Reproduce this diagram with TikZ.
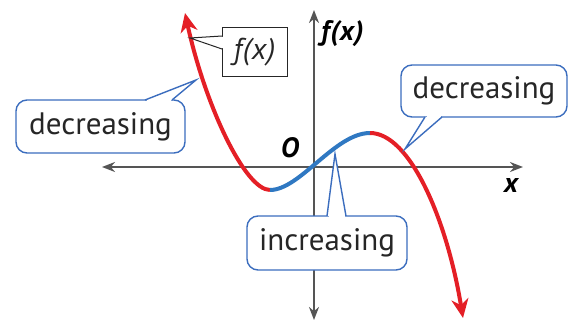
\documentclass[tikz,border=0pt]{standalone}
\usepackage{fontspec}
\setmainfont{PT Sans}
\usetikzlibrary{arrows.meta}
\definecolor{curvered}{HTML}{E41F26}
\definecolor{curveblue}{HTML}{2F78C2}
\definecolor{callblue}{HTML}{3B6DBE}
\definecolor{axisgray}{HTML}{555555}
\definecolor{txtgray}{HTML}{262626}
\begin{document}
\begin{tikzpicture}[x=1pt,y=-1pt,
  axisline/.style={draw=axisgray, line width=2pt, {Stealth[length=13pt,width=10pt]}-{Stealth[length=13pt,width=10pt]}},
  redseg/.style={draw=curvered, line width=4pt},
  blueseg/.style={draw=curveblue, line width=4pt},
  redtip/.style={-{Stealth[length=19pt,width=17pt,inset=6pt]}},
  callout/.style={draw=callblue, line width=1.4pt, fill=white, rounded corners=11pt, text=txtgray,
    font=\fontsize{31}{34}\selectfont, inner sep=0pt, anchor=center},
  tailline/.style={draw=callblue, line width=1.4pt, line join=miter},
  axlabel/.style={font=\fontsize{28}{30}\selectfont\bfseries\itshape, text=black, inner sep=0pt},
  fbox/.style={draw=black!85, line width=1pt, fill=white, inner sep=0pt, text=txtgray,
    font=\fontsize{30}{32}\selectfont\itshape, minimum width=65pt, minimum height=49pt},
  fline/.style={draw=black!85, line width=1pt, line join=miter}
]
\useasboundingbox (0,0) rectangle (576,321);

% axes
\coordinate (xl) at (102,167);
\coordinate (xr) at (523,167);
\coordinate (yb) at (314,320);
\coordinate (yt) at (314,10);
\draw[axisline] (xl) -- (xr);
\draw[axisline] (yb) -- (yt);
\node[axlabel, anchor=west] (fxlab) at (321,34) {f\kern1pt(\kern1pt x\kern1pt)};
\node[axlabel] (olab) at (290,148) {O};
\node[axlabel] (xlab) at (511,185) {x};

% curve
\coordinate (tipL) at (185,13);
\coordinate (cmin) at (270,190);
\coordinate (cmax) at (370,133);
\coordinate (tipR) at (463,318);
\draw[redseg, redtip] (cmin) .. controls (245,190) and (205,105) .. (tipL);
\draw[blueseg] (cmin) .. controls (300,190) and (335,133) .. (cmax);
\draw[redseg, redtip] (cmax) .. controls (410,133) and (447,220) .. (tipR);

% pointer targets on the curve
\coordinate (pL) at (196,80);
\coordinate (pR) at (405,149);
\coordinate (pI) at (335,154);
\coordinate (pF) at (190,38);

% left decreasing
\node[callout, minimum width=169pt, minimum height=53pt] (decL) at (100.5,126.5) {decreasing};
\coordinate (dLa) at (145,100);
\coordinate (dLb) at (172,100);
\fill[white] (dLa) -- (pL) -- (dLb) -- cycle;
\fill[white] (146.5,98.8) rectangle (170.5,101.2);
\draw[tailline] (dLa) -- (pL) -- (dLb);

% right decreasing
\node[callout, minimum width=166pt, minimum height=52pt] (decR) at (484,91) {decreasing};
\coordinate (dRa) at (425,117);
\coordinate (dRb) at (442,117);
\fill[white] (dRa) -- (pR) -- (dRb) -- cycle;
\fill[white] (426.5,115.8) rectangle (440.5,118.2);
\draw[tailline] (dRa) -- (pR) -- (dRb);

% increasing
\node[callout, minimum width=160pt, minimum height=54pt] (inc) at (327,243) {increasing};
\coordinate (iA) at (327,216);
\coordinate (iB) at (346,216);
\fill[white] (iA) -- (pI) -- (iB) -- cycle;
\fill[white] (328.5,214.8) rectangle (344.5,217.2);
\draw[tailline] (iA) -- (pI) -- (iB);

% f(x) label box
\node[fbox] (fbx) at (254.5,52.5) {f\kern1pt(\kern1pt x\kern1pt)};
\coordinate (fA) at (222,36);
\coordinate (fB) at (222,49);
\fill[white] (fA) -- (pF) -- (fB) -- cycle;
\fill[white] (221,37.2) rectangle (223,47.8);
\draw[fline] (fA) -- (pF) -- (fB);
\end{tikzpicture}
\end{document}
